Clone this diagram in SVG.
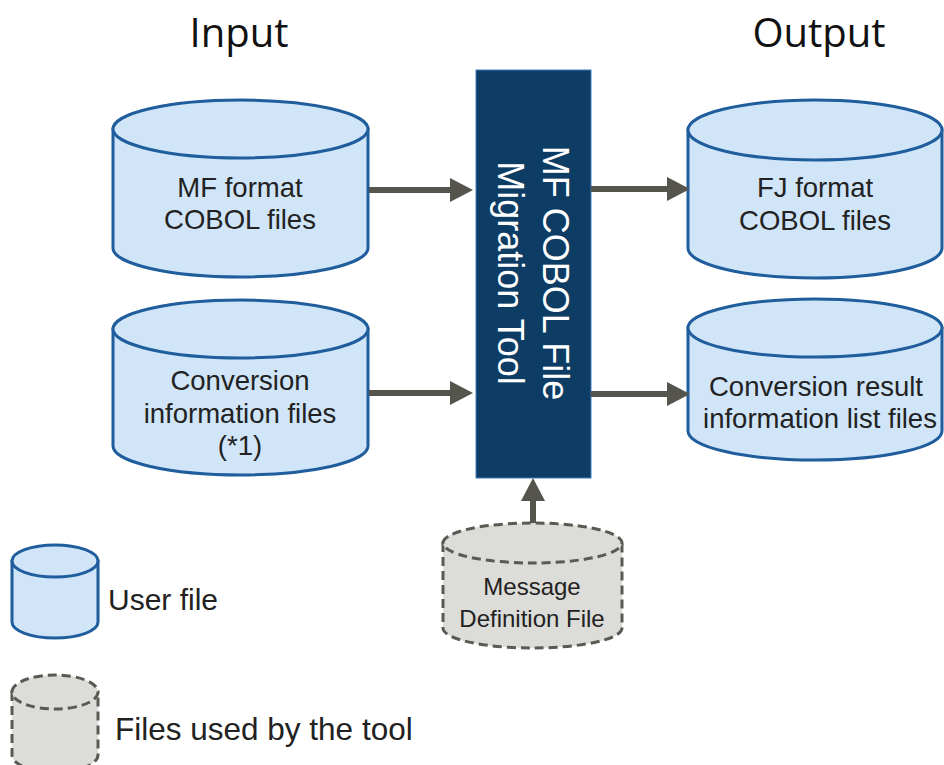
<svg xmlns="http://www.w3.org/2000/svg" width="944" height="765" viewBox="0 0 944 765">
<defs>
<style>
.user path{fill:#d0e5f8;stroke:#1f5d9d;stroke-width:3}
.tool path{fill:#dcdcd8;stroke:#5a5a55;stroke-width:3;stroke-dasharray:9 5}
.lbl{font-family:"Liberation Sans",Arial,sans-serif;font-size:27.5px;fill:#222;text-anchor:middle}
.title{font-family:"Open Sans","Noto Sans",sans-serif;font-size:40px;fill:#111;text-anchor:middle}
.leg{font-family:"Liberation Sans",Arial,sans-serif;font-size:30px;fill:#222}
.boxt{font-family:"Liberation Sans",Arial,sans-serif;font-size:36px;fill:#fff;text-anchor:middle}
.conn line{stroke:#55554d;stroke-width:6;marker-end:url(#ah)}
</style>
<marker id="ah" markerUnits="userSpaceOnUse" markerWidth="24" markerHeight="24" viewBox="0 0 24 24" refX="11" refY="12" orient="auto">
<path d="M0,0 L23,12 L0,24 Z" fill="#55554d"/>
</marker>
</defs>
<rect width="944" height="765" fill="#fff"/>
<text class="title" x="239" y="47">Input</text>
<text class="title" x="819" y="47">Output</text>

<g id="mf-cobol" class="user">
<path d="M113,129 L113,248 A127.5,29 0 0 0 368,248 L368,129 Z"/>
<path d="M113,129 A127.5,29 0 1 1 368,129 A127.5,29 0 1 1 113,129 Z"/>
<text class="lbl" x="240" y="197">MF format</text>
<text class="lbl" x="240" y="229">COBOL files</text>
</g>
<g id="conv-info" class="user">
<path d="M113,329 L113,446 A127.5,29 0 0 0 368,446 L368,329 Z"/>
<path d="M113,329 A127.5,29 0 1 1 368,329 A127.5,29 0 1 1 113,329 Z"/>
<text class="lbl" x="240" y="390">Conversion</text>
<text class="lbl" x="240" y="423">information files</text>
<text class="lbl" x="240" y="455">(*1)</text>
</g>
<g id="fj-cobol" class="user">
<path d="M688,130 L688,248 A127,30 0 0 0 942,248 L942,130 Z"/>
<path d="M688,130 A127,30 0 1 1 942,130 A127,30 0 1 1 688,130 Z"/>
<text class="lbl" x="815" y="197">FJ format</text>
<text class="lbl" x="815" y="230">COBOL files</text>
</g>
<g id="conv-result" class="user">
<path d="M688,328 L688,431 A127,29 0 0 0 942,431 L942,328 Z"/>
<path d="M688,328 A127,29 0 1 1 942,328 A127,29 0 1 1 688,328 Z"/>
<text class="lbl" x="816" y="396">Conversion result</text>
<text class="lbl" x="820" y="428">information list files</text>
</g>
<g id="tool">
<rect x="476" y="70" width="115" height="408" fill="#0d3c65" stroke="#3f7fbf" stroke-width="1"/>
<text class="boxt" transform="translate(543,273) rotate(90)">MF COBOL File</text>
<text class="boxt" transform="translate(498,273) rotate(90)">Migration Tool</text>
</g>
<g id="msg-def" class="tool">
<path d="M443,543 L443,628 A89.5,20 0 0 0 622,628 L622,543 Z"/>
<path d="M443,543 A89.5,20 0 1 1 622,543 A89.5,20 0 1 1 443,543 Z"/>
<text class="lbl" style="font-size:24px" x="532" y="595">Message</text>
<text class="lbl" style="font-size:24px" x="532" y="627">Definition File</text>
</g>
<g id="legend-user" class="user">
<path d="M12,561 L12,622 A43,16 0 0 0 98,622 L98,561 Z"/>
<path d="M12,561 A43,16 0 1 1 98,561 A43,16 0 1 1 12,561 Z"/>
<text class="leg" x="108" y="610">User file</text>
</g>
<g id="legend-tool" class="tool">
<path d="M12,692 L12,755 A43,17 0 0 0 98,755 L98,692 Z"/>
<path d="M12,692 A43,17 0 1 1 98,692 A43,17 0 1 1 12,692 Z"/>
<text class="leg" style="font-size:31.5px" x="115" y="740">Files used by the tool</text>
</g>
<g id="connectors" class="conn">
<line x1="369" y1="190" x2="461" y2="190"/>
<line x1="369" y1="393" x2="461" y2="393"/>
<line x1="591" y1="189" x2="678" y2="189"/>
<line x1="591" y1="394" x2="678" y2="394"/>
<line x1="533" y1="523" x2="533" y2="490"/>
</g>
</svg>
